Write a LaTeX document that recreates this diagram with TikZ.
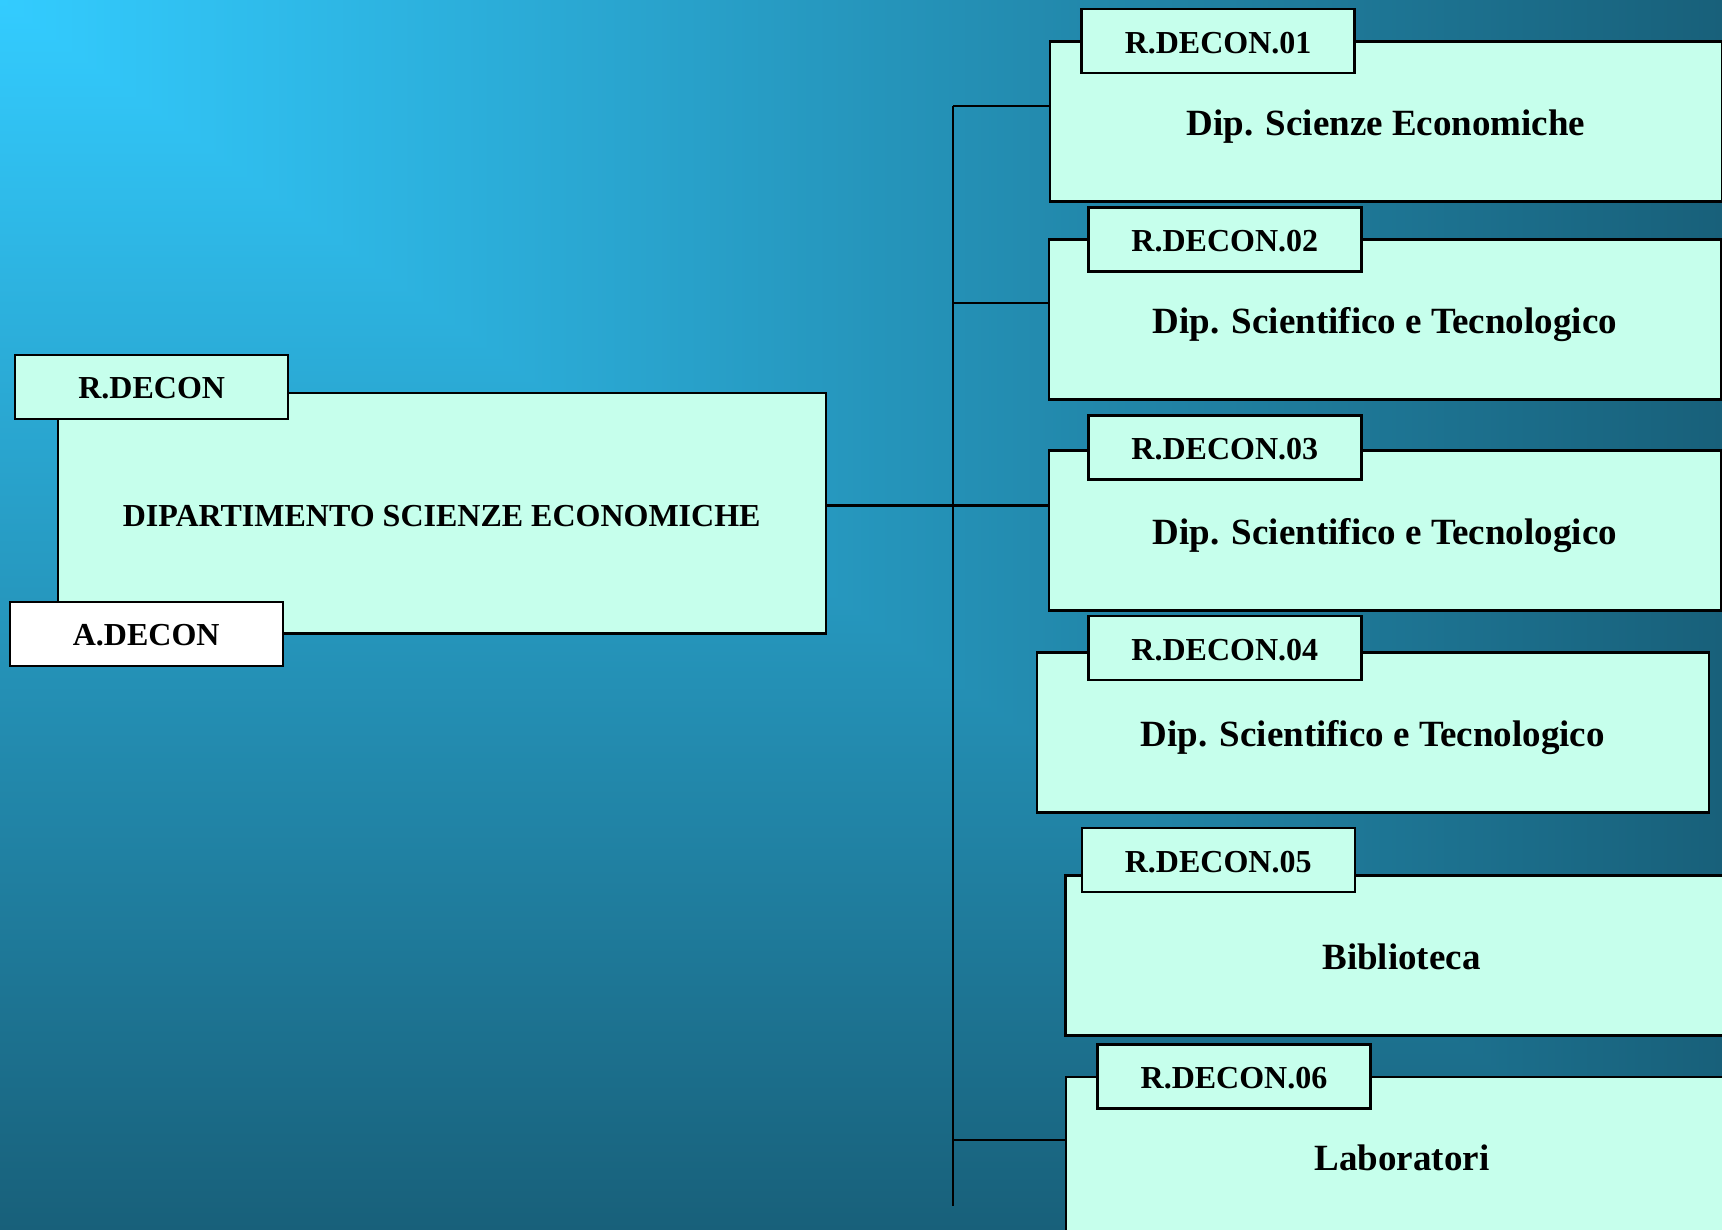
\documentclass[tikz,border=0pt]{standalone}
\usepackage{fontspec}
\setmainfont{Liberation Serif}
\definecolor{bgA}{RGB}{51,204,255}
\definecolor{bgB}{RGB}{37,151,192}
\definecolor{bgC}{RGB}{24,96,122}
\definecolor{mint}{RGB}{198,255,236}
\begin{document}
\begin{tikzpicture}[x=1pt,y=-1pt,
  framed/.style={draw=black, line width=2.4pt, fill=mint, inner sep=0pt, outer sep=0pt,
    anchor=north west, text depth=0pt},
  box/.style={framed, minimum width=672pt, minimum height=160pt, text height=28.5pt,
    font=\bfseries\fontsize{37}{44}\selectfont},
  tab/.style={framed, minimum width=273pt, minimum height=64pt, text height=24pt,
    font=\bfseries\fontsize{32}{38}\selectfont},
  link/.style={draw=black, line width=2.2pt}]
\useasboundingbox (0,0) rectangle (1722,1230);
\clip (0,0) rectangle (1722,1230);

% background: rectangular gradient spreading from the top-left corner
\shade[top color=bgA, middle color=bgB, bottom color=bgC] (0,0) rectangle (1722,1230);
\begin{scope}
  \clip (0,0) -- (1722,0) -- (1722,1230) -- cycle;
  \shade[left color=bgA, middle color=bgB, right color=bgC] (0,0) rectangle (1722,1230);
\end{scope}

% department box with its two labels
\node[box, minimum width=768pt, minimum height=240pt, text height=26.2pt,
      font=\bfseries\fontsize{32}{38}\selectfont] (main) at (57.7,393.3)
      {DIPARTIMENTO SCIENZE ECONOMICHE};
\node[tab] (rdecon) at (15.2,354.8) {R.DECON};
\node[tab, fill=white] (adecon) at (9.7,601.8) {A.DECON};

% units
\node[box] (b1) at (1050,41.7) {Dip. Scienze Economiche};
\node[tab] (t1) at (1081.6,9.3) {R.DECON.01};
\node[box] (b2) at (1048.8,239.4) {Dip. Scientifico e Tecnologico};
\node[tab] (t2) at (1088.3,207.6) {R.DECON.02};
\node[box] (b3) at (1048.8,450.6) {Dip. Scientifico e Tecnologico};
\node[tab] (t3) at (1088.3,415.5) {R.DECON.03};
\node[box] (b4) at (1036.7,652.3) {Dip. Scientifico e Tecnologico};
\node[tab] (t4) at (1088.3,616.1) {R.DECON.04};
\node[box] (b5) at (1065.5,875.3) {Biblioteca};
\node[tab] (t5) at (1081.7,828) {R.DECON.05};
\node[box] (b6) at (1066,1076.7) {Laboratori};
\node[tab] (t6) at (1097.5,1044.4) {R.DECON.06};

% connectors
\coordinate (bustop) at (953.3,105.8);
\coordinate (j2) at (953.3,302.8);
\coordinate (j3) at (953.3,505.3);
\coordinate (j6) at (953.3,1140);
\coordinate (busbot) at (953.3,1206);
\draw[link] (bustop) -- (busbot);
\draw[link] (bustop) -- (bustop -| b1.west);
\draw[link] (j2) -- (j2 -| b2.west);
\draw[link, line width=2.8pt] (main.east |- j3) -- (j3 -| b3.west);
\draw[link] (j6) -- (j6 -| b6.west);
\end{tikzpicture}
\end{document}
